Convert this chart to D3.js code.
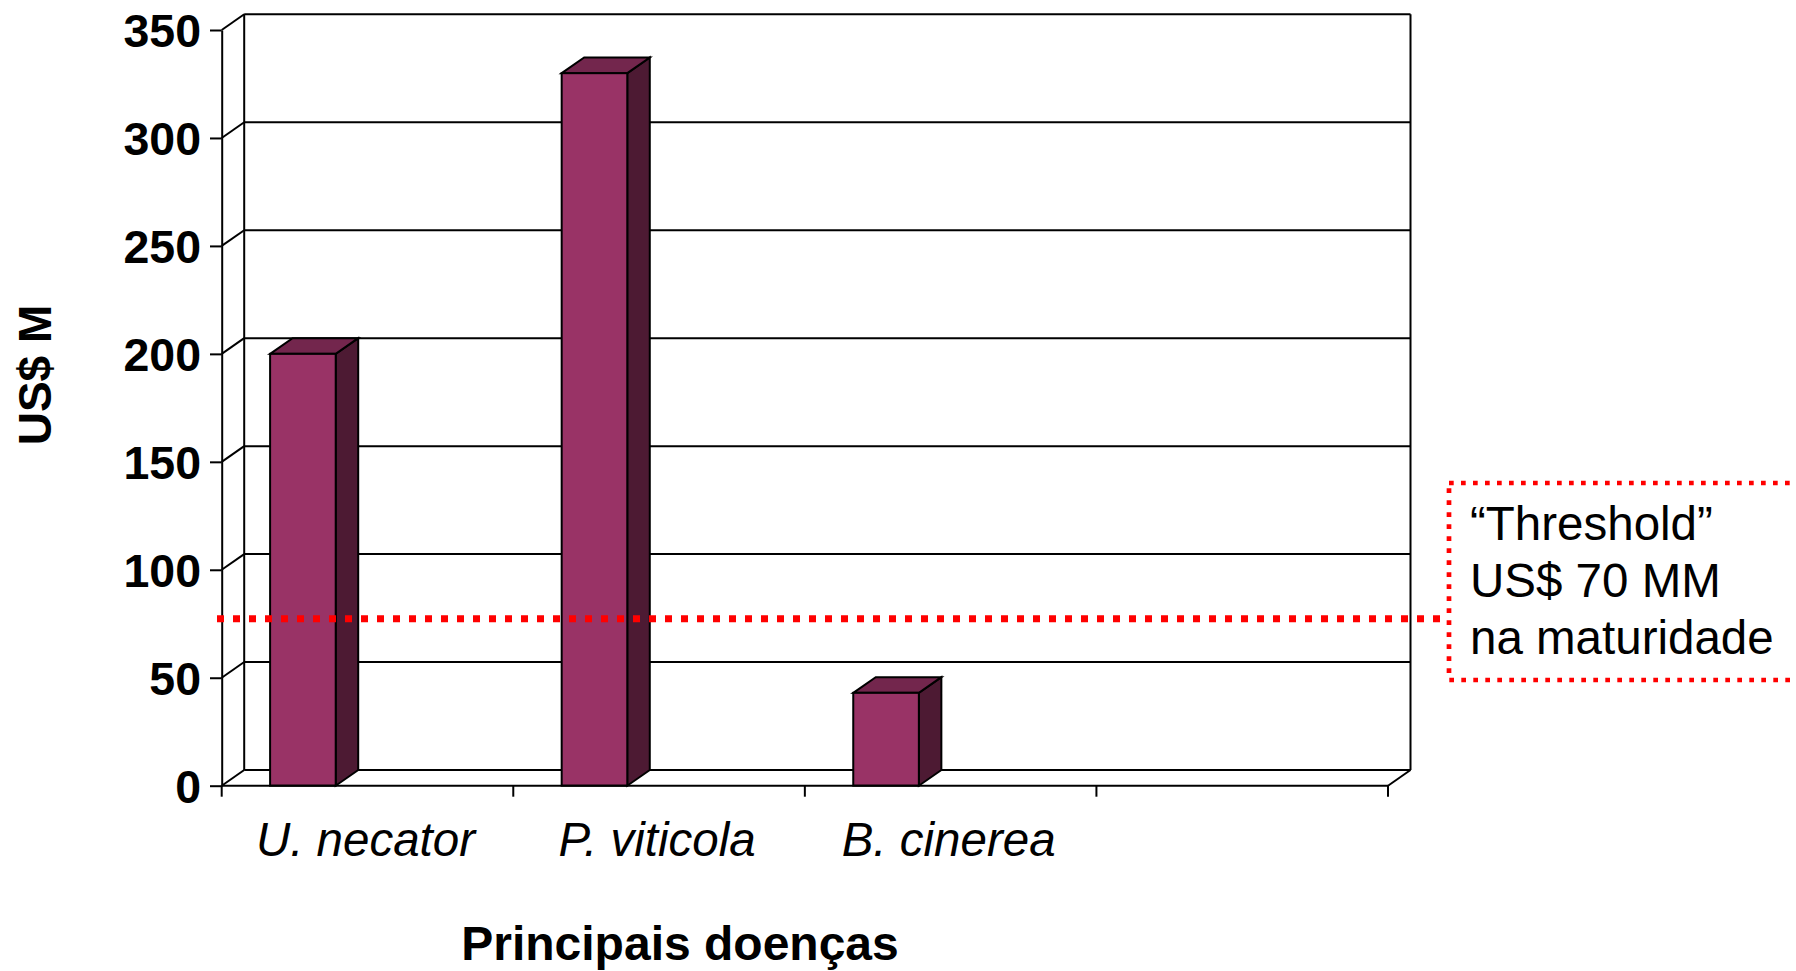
<!DOCTYPE html>
<html>
<head>
<meta charset="utf-8">
<script src="https://cdn.jsdelivr.net/npm/d3@7"></script>
<style>
  html, body { margin: 0; padding: 0; background: #fff; }
  svg { display: block; }
  text { font-family: "Liberation Sans", Arial, Helvetica, sans-serif; fill: #000; }
</style>
</head>
<body>
<svg id="chart" width="1796" height="971"></svg>
<script>
// Losses per disease (US$ millions)
const categories = ["U. necator", "P. viticola", "B. cinerea", ""];
const values = [200, 330, 43, null];
const yTicks = [0, 50, 100, 150, 200, 250, 300, 350];
const threshold = 70;
const thresholdLines = ["\u201CThreshold\u201D", "US$ 70 MM", "na maturidade"];
const yTitle = "US$ M";
const xTitle = "Principais doenças";

(function () {
  const W = 1796, H = 971;
  const svg = d3.select("#chart");
  svg.append("rect").attr("width", W).attr("height", H).attr("fill", "#fff");

  // plot geometry (front plane) and the 3-D depth offset
  const plotLeft = 221.7, plotRight = 1388, plotBottom = 785.7, plotTop = 30;
  const dx = 22.5, dy = -15.7;

  const x = d3.scaleBand().domain(categories).range([plotLeft, plotRight]).paddingInner(0).paddingOuter(0);
  const y = d3.scaleLinear().domain([0, 350]).range([plotBottom, plotTop]);
  const yBack = v => y(v) + dy;
  const bw = x.bandwidth();
  const barOff = 0.166 * bw, barW = 0.225 * bw;

  const stroke = "#000", sw = 2;

  // back wall: gridlines and frame
  const wall = svg.append("g");
  wall.selectAll("line.grid").data(yTicks).join("line")
    .attr("x1", plotLeft + dx).attr("x2", plotRight + dx)
    .attr("y1", d => yBack(d)).attr("y2", d => yBack(d))
    .attr("stroke", stroke).attr("stroke-width", sw);
  wall.append("line").attr("x1", plotLeft + dx).attr("x2", plotLeft + dx)
    .attr("y1", yBack(0)).attr("y2", yBack(350)).attr("stroke", stroke).attr("stroke-width", sw);
  wall.append("line").attr("x1", plotRight + dx).attr("x2", plotRight + dx)
    .attr("y1", yBack(0)).attr("y2", yBack(350)).attr("stroke", stroke).attr("stroke-width", sw);
  // side-wall diagonals joining the front axis to the wall
  wall.selectAll("line.diag").data(yTicks).join("line")
    .attr("x1", plotLeft).attr("x2", plotLeft + dx)
    .attr("y1", d => y(d)).attr("y2", d => yBack(d))
    .attr("stroke", stroke).attr("stroke-width", sw);
  // floor right edge
  wall.append("line").attr("x1", plotRight).attr("x2", plotRight + dx)
    .attr("y1", y(0)).attr("y2", yBack(0)).attr("stroke", stroke).attr("stroke-width", sw);

  // 3-D columns
  const bars = svg.append("g");
  const data = categories.map((c, i) => ({ c, v: values[i] })).filter(d => d.v != null);
  data.forEach(d => {
    const x0 = x(d.c) + barOff, x1 = x0 + barW, yt = y(d.v), yb = y(0);
    const g = bars.append("g").attr("stroke", stroke).attr("stroke-width", sw).attr("stroke-linejoin", "miter");
    // side face
    g.append("path").attr("fill", "#4d1a33")
      .attr("d", `M${x1},${yt}L${x1 + dx},${yt + dy}L${x1 + dx},${yb + dy}L${x1},${yb}Z`);
    // top face
    g.append("path").attr("fill", "#73264d")
      .attr("d", `M${x0},${yt}L${x0 + dx},${yt + dy}L${x1 + dx},${yt + dy}L${x1},${yt}Z`);
    // front face
    g.append("rect").attr("fill", "#993366")
      .attr("x", x0).attr("y", yt).attr("width", barW).attr("height", yb - yt);
  });

  // front floor edge with category tick marks
  const xAxis = svg.append("g");
  xAxis.append("line").attr("x1", plotLeft).attr("x2", plotRight).attr("y1", y(0)).attr("y2", y(0))
    .attr("stroke", stroke).attr("stroke-width", sw);
  const edges = categories.map(c => x(c)).concat([plotRight]);
  xAxis.selectAll("line.tick").data(edges).join("line")
    .attr("x1", d => d).attr("x2", d => d).attr("y1", y(0)).attr("y2", y(0) + 11)
    .attr("stroke", stroke).attr("stroke-width", sw);
  xAxis.selectAll("text").data(categories).join("text")
    .attr("x", d => x(d) + bw / 2 - 2).attr("y", 856)
    .attr("text-anchor", "middle").attr("font-size", 47.5).attr("font-style", "italic")
    .text(d => d);

  // value axis
  const yAxis = svg.append("g").attr("transform", `translate(${plotLeft},0)`)
    .call(d3.axisLeft(y).tickValues(yTicks).tickSize(11.7).tickSizeOuter(0).tickPadding(9));
  yAxis.select(".domain").attr("stroke", stroke).attr("stroke-width", sw);
  yAxis.selectAll(".tick line").attr("stroke", stroke).attr("stroke-width", sw);
  yAxis.selectAll(".tick text").attr("font-size", 46.5).attr("font-weight", "bold")
    .attr("font-family", "'Liberation Sans', Arial, sans-serif").attr("fill", "#000").attr("dy", "0.36em");

  // axis titles
  svg.append("text").attr("transform", "translate(51,375) rotate(-90)")
    .attr("text-anchor", "middle").attr("font-size", 46).attr("font-weight", "bold").text(yTitle);
  svg.append("text").attr("x", 680).attr("y", 960)
    .attr("text-anchor", "middle").attr("font-size", 48).attr("font-weight", "bold").text(xTitle);

  // threshold marker read against the back wall
  const ty = yBack(threshold);
  svg.append("line").attr("x1", 217).attr("x2", 1442).attr("y1", ty).attr("y2", ty)
    .attr("stroke", "#ff0000").attr("stroke-width", 7).attr("stroke-dasharray", "7 9");
  svg.append("rect").attr("x", 1449).attr("y", 483).attr("width", 420).attr("height", 197)
    .attr("fill", "none").attr("stroke", "#ff0000").attr("stroke-width", 4.7)
    .attr("stroke-dasharray", "4.7 7.3");
  svg.append("g").selectAll("text").data(thresholdLines).join("text")
    .attr("x", 1470).attr("y", (d, i) => 540 + i * 57.2)
    .attr("font-size", 47.5).text(d => d);
})();
</script>
</body>
</html>
